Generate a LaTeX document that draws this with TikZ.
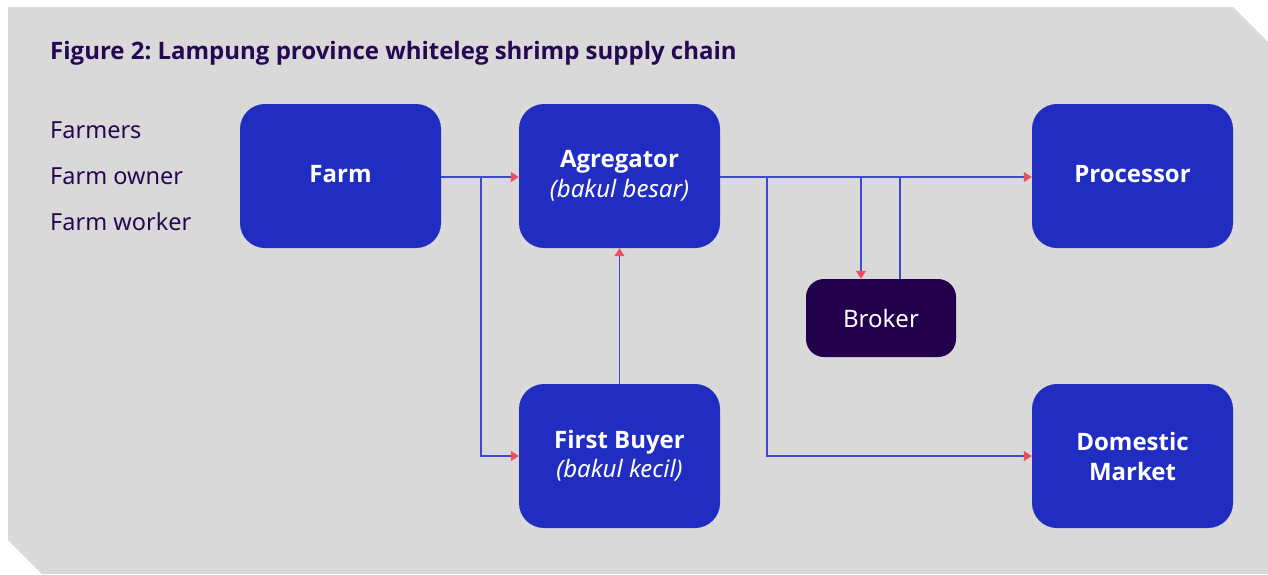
\documentclass[tikz,border=0pt]{standalone}
\usepackage{fontspec}
\setmainfont{Noto Sans}
\newfontfamily\boldface{Open Sans}
\frenchspacing
\usetikzlibrary{arrows.meta}
\definecolor{bg}{RGB}{217,217,217}
\definecolor{boxblue}{RGB}{32,45,192}
\definecolor{brokerc}{RGB}{34,0,76}
\definecolor{titlec}{RGB}{38,8,82}
\definecolor{linec}{RGB}{60,75,205}
\definecolor{tipc}{RGB}{235,80,95}
\newcommand{\bt}[1]{{\boldface\bfseries #1}}
\tikzset{
  stagebox/.style={draw=none, fill=boxblue, rounded corners=25pt, minimum width=201pt, minimum height=144pt, text=white, align=center, font=\fontsize{24}{30}\selectfont, inner sep=0pt},
  brokerbox/.style={draw=none, fill=brokerc, rounded corners=18pt, minimum width=150pt, minimum height=78pt, text=white, font=\fontsize{24}{30}\selectfont, inner sep=0pt},
  sidelabel/.style={anchor=west, text=titlec, font=\fontsize{23.5}{26}\selectfont, inner sep=0pt},
  flow/.style={draw=linec, line width=1.3pt, -{Triangle[length=8pt,width=10pt,color=tipc]}},
  flowplain/.style={draw=linec, line width=1.3pt}
}
\begin{document}
\begin{tikzpicture}[x=1pt,y=-1pt]
\useasboundingbox (0,0) rectangle (1268,574);
\fill[bg] (8,7) -- (1233,7) -- (1268,42) -- (1268,574) -- (42,574) -- (8,540) -- cycle;
\node[anchor=base west, text=titlec, font=\fontsize{24}{28}\selectfont, inner sep=0pt] (title) at (50,59) {\bt{Figure 2: Lampung province whiteleg shrimp supply chain}};
\node[sidelabel] (l1) at (50,130) {Farmers};
\node[sidelabel] (l2) at (50,176) {Farm owner};
\node[sidelabel] (l3) at (50,222) {Farm worker};
\node[stagebox] (farm) at (340.5,176) {\raisebox{5pt}{\bt{Farm}}};
\node[stagebox] (agg) at (619.5,176) {\bt{Agregator}\\\textit{(bakul besar)}};
\node[stagebox] (proc) at (1132.5,176) {\raisebox{5pt}{\bt{Processor}}};
\node[stagebox] (fb) at (619.5,456) {\raisebox{-1pt}{\bt{First Buyer}}\\\textit{(bakul kecil)}};
\node[stagebox] (dom) at (1132.5,456) {\bt{Domestic}\\\bt{Market}};
\node[brokerbox] (broker) at (881,318) {Broker};
\coordinate (j1) at (481,177);
\coordinate (j2) at (767,177);
\coordinate (j3) at (861,177);
\coordinate (j4) at (900,177);
\draw[flow] (farm.east |- j1) -- (agg.west |- j1);
\draw[flow] (j1) |- (fb.west);
\draw[flow] (fb.north) -- (agg.south);
\draw[flow] (agg.east |- j2) -- (proc.west |- j2);
\draw[flow] (j2) |- (dom.west);
\draw[flow] (j3) -- (j3 |- broker.north);
\draw[flowplain] (j4 |- broker.north) -- (j4);
\end{tikzpicture}
\end{document}
